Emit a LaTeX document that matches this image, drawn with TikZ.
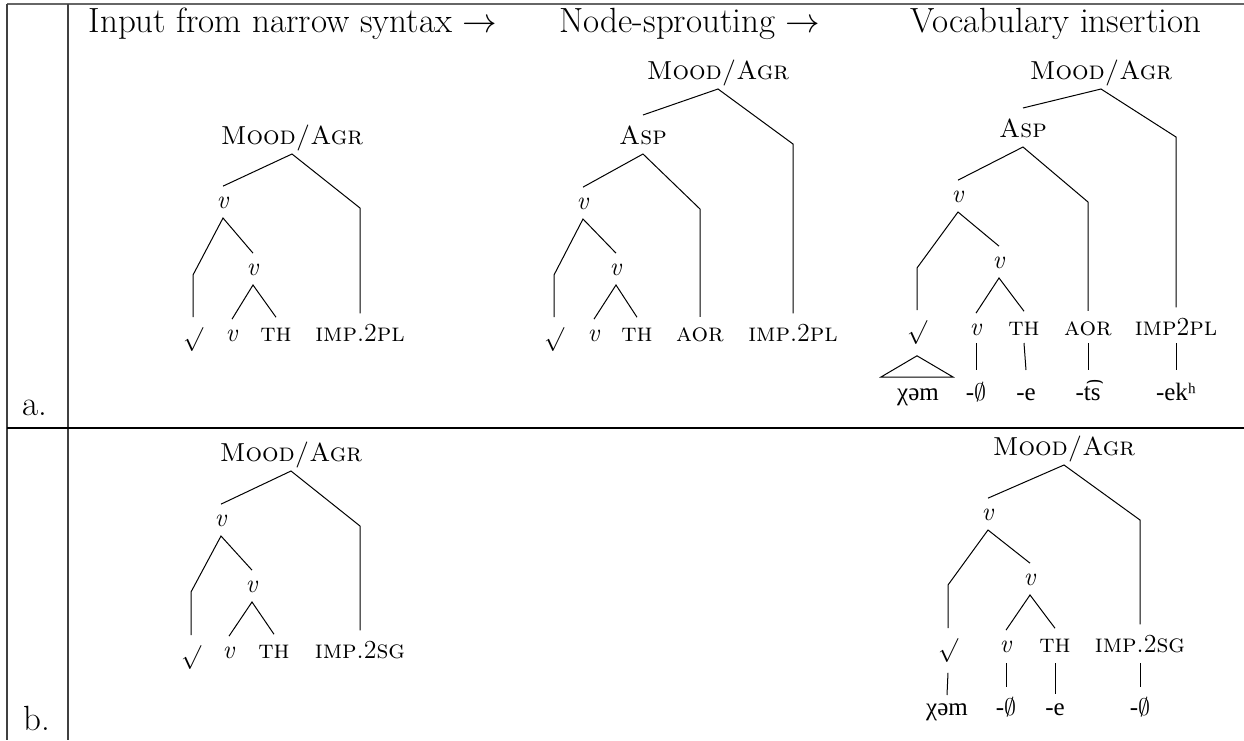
\documentclass[tikz,border=0pt]{standalone}
\usepackage{fontspec}
\newfontfamily\ipafont{Liberation Serif}
\begin{document}
\begin{tikzpicture}[x=0.5pt,y=-0.5pt,
  lab/.style={anchor=base,inner sep=0pt,font=\fontsize{13}{15}\selectfont},
  rt/.style={anchor=north,inner sep=0pt,font=\fontsize{13}{15}\selectfont},
  hd/.style={anchor=base,inner sep=0pt,font=\fontsize{17.5}{20}\selectfont},
  ipa/.style={anchor=base,inner sep=0pt,font=\fontsize{12.5}{14}\ipafont},
  br/.style={line width=0.5pt,line join=miter},
  rule/.style={line width=0.6pt,black!75}]
\useasboundingbox (0,0) rectangle (1244,740);
% table rules
\draw[line width=1pt,black!60] (7,4) -- (1244,4);
\draw[rule] (7,4) -- (7,740);
\draw[rule] (68,4) -- (68,740);
\draw[line width=0.6pt,black] (7,428) -- (1244,428);
% headers and row labels
\node[hd] (h1) at (293,32) {Input from narrow syntax $\rightarrow$};
\node[hd] (h2) at (690,32) {Node-sprouting $\rightarrow$};
\node[hd] (h3) at (1056,32) {Vocabulary insertion};
\node[hd] (ra) at (35,415) {a.};
\node[hd] (rb) at (37,730) {b.};
% ---------- tree A (a, input) ----------
\node[lab] (A0) at (292,144) {\textsc{Mood/Agr}};
\node[lab] (A1) at (223,208) {\textit{v}};
\node[lab] (A2) at (253,275) {\textit{v}};
\node[rt]  (A3) at (193,327) {$\surd$};
\node[lab] (A4) at (232,341) {\textit{v}};
\node[lab] (A5) at (276,341) {\textsc{th}};
\node[lab] (A6) at (360,341) {\textsc{imp}.2\textsc{pl}};
\draw[br] ([yshift=5pt]A1.north) -- ([yshift=-5pt]A0.base) -- (A6.north |- A1.base) -- ([yshift=5pt]A6.north);
\draw[br] ([yshift=5pt]A3.north) -- (A3.north |- A2.base) -- ([yshift=-5pt]A1.base) -- ([yshift=5pt]A2.north);
\draw[br] ([yshift=5pt]A4.north) -- ([yshift=-5pt]A2.base) -- ([yshift=5pt]A5.north);
% ---------- tree B (a, node-sprouting) ----------
\node[lab] (B0) at (718,79) {\textsc{Mood/Agr}};
\node[lab] (B1) at (643,144) {\textsc{Asp}};
\node[lab] (B2) at (583,209) {\textit{v}};
\node[lab] (B3) at (616,275) {\textit{v}};
\node[rt]  (B4) at (554,327) {$\surd$};
\node[lab] (B5) at (594,341) {\textit{v}};
\node[lab] (B6) at (637,341) {\textsc{th}};
\node[lab] (B7) at (700,341) {\textsc{aor}};
\node[lab] (B8) at (793,341) {\textsc{imp}.2\textsc{pl}};
\draw[br] ([yshift=5pt]B1.north) -- ([yshift=-5pt]B0.base) -- (B8.north |- B1.base) -- ([yshift=5pt]B8.north);
\draw[br] ([yshift=5pt]B2.north) -- ([yshift=-5pt]B1.base) -- (B7.north |- B2.base) -- ([yshift=5pt]B7.north);
\draw[br] ([yshift=5pt]B4.north) -- (B4.north |- B3.base) -- ([yshift=-5pt]B2.base) -- ([yshift=5pt]B3.north);
\draw[br] ([yshift=5pt]B5.north) -- ([yshift=-5pt]B3.base) -- ([yshift=5pt]B6.north);
% ---------- tree C (a, vocabulary insertion) ----------
\node[lab] (C0) at (1101,79) {\textsc{Mood/Agr}};
\node[lab] (C1) at (1023,137) {\textsc{Asp}};
\node[lab] (C2) at (958,202) {\textit{v}};
\node[lab] (C3) at (999,268) {\textit{v}};
\node[rt]  (C4) at (917,320) {$\surd$};
\node[lab] (C5) at (976,335) {\textit{v}};
\node[lab] (C6) at (1024,335) {\textsc{th}};
\node[lab] (C7) at (1088,335) {\textsc{aor}};
\node[lab] (C8) at (1176,335) {\textsc{imp}2\textsc{pl}};
\node[ipa] (C9) at (918,400) {χəm};
\node[ipa] (C10) at (976,400) {-$\emptyset$};
\node[ipa] (C11) at (1026,400) {-e};
\node[ipa] (C12) at (1088,400) {-t͡s};
\node[ipa] (C13) at (1176,400) {-ekʰ};
\draw[br] ([yshift=5pt]C1.north) -- ([yshift=-5pt]C0.base) -- (C8.north |- C1.base) -- ([yshift=5pt]C8.north);
\draw[br] ([yshift=5pt]C2.north) -- ([yshift=-5pt]C1.base) -- (C7.north |- C2.base) -- ([yshift=5pt]C7.north);
\draw[br] ([yshift=5pt]C4.north) -- (C4.north |- C3.base) -- ([yshift=-5pt]C2.base) -- ([yshift=5pt]C3.north);
\draw[br] ([yshift=5pt]C5.north) -- ([yshift=-5pt]C3.base) -- ([yshift=5pt]C6.north);
\draw[br] ([yshift=-5.5pt]C4.south) -- ([xshift=-18.5pt,yshift=11.5pt]C9.base) -- ([xshift=17.5pt,yshift=11.5pt]C9.base) -- cycle;
\draw[br] ([yshift=-4pt]C5.base) -- ([yshift=15pt]C10.base);
\draw[br] ([yshift=-4pt]C6.base) -- ([yshift=15pt]C11.base);
\draw[br] ([yshift=-4pt]C7.base) -- ([yshift=15pt]C12.base);
\draw[br] ([yshift=-4pt]C8.base) -- ([yshift=15pt]C13.base);
% ---------- tree D (b, input) ----------
\node[lab] (D0) at (291,461) {\textsc{Mood/Agr}};
\node[lab] (D1) at (221,526) {\textit{v}};
\node[lab] (D2) at (252,592) {\textit{v}};
\node[rt]  (D3) at (191,645) {$\surd$};
\node[lab] (D4) at (229,658) {\textit{v}};
\node[lab] (D5) at (274,658) {\textsc{th}};
\node[lab] (D6) at (360,658) {\textsc{imp}.2\textsc{sg}};
\draw[br] ([yshift=5pt]D1.north) -- ([yshift=-5pt]D0.base) -- (D6.north |- D1.base) -- ([yshift=5pt]D6.north);
\draw[br] ([yshift=5pt]D3.north) -- (D3.north |- D2.base) -- ([yshift=-5pt]D1.base) -- ([yshift=5pt]D2.north);
\draw[br] ([yshift=5pt]D4.north) -- ([yshift=-5pt]D2.base) -- ([yshift=5pt]D5.north);
% ---------- tree E (b, vocabulary insertion) ----------
\node[lab] (E0) at (1064,455) {\textsc{Mood/Agr}};
\node[lab] (E1) at (988,520) {\textit{v}};
\node[lab] (E2) at (1030,585) {\textit{v}};
\node[rt]  (E3) at (948,638) {$\surd$};
\node[lab] (E4) at (1006,652) {\textit{v}};
\node[lab] (E5) at (1055,652) {\textsc{th}};
\node[lab] (E6) at (1140,652) {\textsc{imp}.2\textsc{sg}};
\node[ipa] (E7) at (947,715) {χəm};
\node[ipa] (E8) at (1006,715) {-$\emptyset$};
\node[ipa] (E9) at (1055,715) {-e};
\node[ipa] (E10) at (1140,715) {-$\emptyset$};
\draw[br] ([yshift=5pt]E1.north) -- ([yshift=-5pt]E0.base) -- (E6.north |- E1.base) -- ([yshift=5pt]E6.north);
\draw[br] ([yshift=5pt]E3.north) -- (E3.north |- E2.base) -- ([yshift=-5pt]E1.base) -- ([yshift=5pt]E2.north);
\draw[br] ([yshift=5pt]E4.north) -- ([yshift=-5pt]E2.base) -- ([yshift=5pt]E5.north);
\draw[br] ([yshift=-5pt]E3.south) -- ([yshift=10pt]E7.base);
\draw[br] ([yshift=-5.5pt]E4.base) -- ([yshift=14pt]E8.base);
\draw[br] ([yshift=-5.5pt]E5.base) -- ([yshift=10.5pt]E9.base);
\draw[br] ([yshift=-5.5pt]E6.base) -- ([yshift=14pt]E10.base);
\end{tikzpicture}
\end{document}
